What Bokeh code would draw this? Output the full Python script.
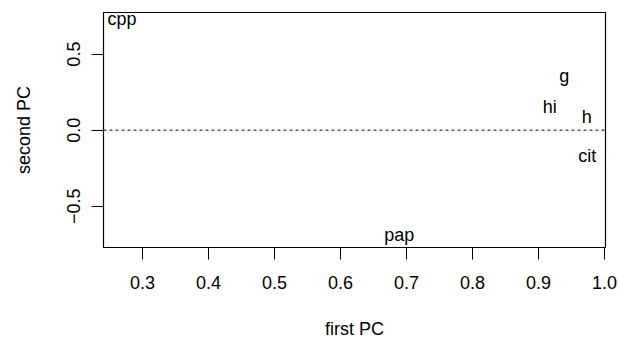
from bokeh.plotting import figure
from bokeh.models import (ColumnDataSource, Range1d, FixedTicker, PrintfTickFormatter,
                          CustomJSTickFormatter, Span)
from bokeh.core.properties import value
from bokeh.embed import file_html
from bokeh.resources import INLINE

# ---- data ----
labels = ["cpp", "pap", "g", "hi", "h", "cit"]
first_pc = [0.269, 0.689, 0.939, 0.917, 0.973, 0.974]
second_pc = [0.734, -0.692, 0.353, 0.153, 0.084, -0.170]
x_ticks = [0.3, 0.4, 0.5, 0.6, 0.7, 0.8, 0.9, 1.0]
y_ticks = [-0.5, 0.0, 0.5]
x_limits = (0.2409, 1.0015)
y_limits = (-0.772, 0.7737)
ref_line = 0.0

FONT = "Liberation Sans"
FS = "18px"

p = figure(width=619, height=341, x_range=Range1d(*x_limits), y_range=Range1d(*y_limits),
           output_backend="svg", toolbar_location=None,
           min_border_left=103, min_border_right=14, min_border_top=12, min_border_bottom=94)

p.background_fill_color = "white"
p.border_fill_color = "white"
p.outline_line_color = "black"
p.outline_line_width = 1.2
p.xgrid.visible = False
p.ygrid.visible = False

for ax in (p.xaxis[0], p.yaxis[0]):
    ax.axis_line_color = None
    ax.major_tick_in = 0
    ax.major_tick_out = 12
    ax.minor_tick_line_color = None
    ax.major_tick_line_color = "black"
    ax.major_tick_line_width = 1
    ax.major_label_text_font = FONT
    ax.major_label_text_font_size = FS
    ax.major_label_text_color = "black"
    ax.axis_label_text_font = FONT
    ax.axis_label_text_font_size = FS
    ax.axis_label_text_font_style = "normal"
    ax.axis_label_text_color = "black"

p.xaxis[0].major_label_standoff = 16
p.yaxis[0].major_label_standoff = 11
p.xaxis[0].axis_label = "first PC"
p.yaxis[0].axis_label = "second PC"
p.xaxis[0].axis_label_standoff = 27
p.yaxis[0].axis_label_standoff = 31

p.xaxis[0].ticker = FixedTicker(ticks=x_ticks)
p.xaxis[0].formatter = PrintfTickFormatter(format="%.1f")
p.yaxis[0].ticker = FixedTicker(ticks=y_ticks)
p.yaxis[0].formatter = CustomJSTickFormatter(
    code="return tick < 0 ? '\\u2212' + Math.abs(tick).toFixed(1) : tick.toFixed(1);")
p.yaxis[0].major_label_orientation = "vertical"

p.add_layout(Span(location=ref_line, dimension="width", line_color="black",
                  line_width=1, line_dash="3 3"))

src = ColumnDataSource(dict(x=first_pc, y=second_pc, label=labels))
p.text(x="x", y="y", text="label", source=src, text_font=value(FONT),
       text_font_size=FS, text_align="center", text_baseline="middle", text_color="black")

open("out.html", "w").write(file_html(p, INLINE))
